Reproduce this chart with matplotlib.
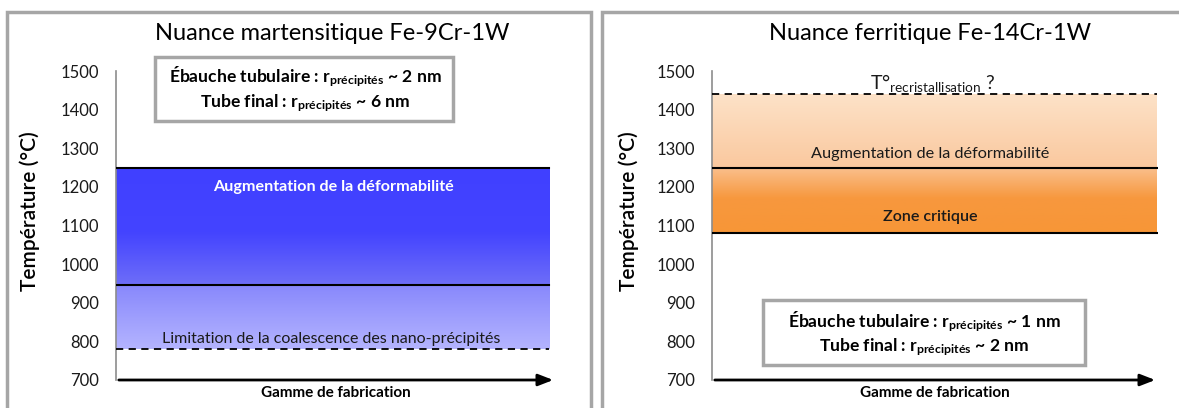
import numpy as np
import matplotlib
matplotlib.use("Agg")
import matplotlib.pyplot as plt
from matplotlib.patches import Rectangle

plt.rcParams['font.family'] = ['Lato', 'DejaVu Sans']
plt.rcParams['mathtext.default'] = 'regular'

# ========= données =========
Y_TICKS = [700, 800, 900, 1000, 1100, 1200, 1300, 1400, 1500]
TITRES = ["Nuance martensitique Fe-9Cr-1W", "Nuance ferritique Fe-14Cr-1W"]

# martensitique : limites (°C)
M_HAUT = 1250
M_MILIEU = 945
M_BAS = 780
# ferritique : limites (°C)
F_RECRIST = 1440
F_MILIEU = 1250
F_BAS = 1080

BOITE_M = ["Ébauche tubulaire : r$_{précipités}$ ~ 2 nm", "Tube final : r$_{précipités}$ ~ 6 nm"]
BOITE_F = ["Ébauche tubulaire : r$_{précipités}$ ~ 1 nm", "Tube final : r$_{précipités}$ ~ 2 nm"]

W, H = 1179, 408
fig = plt.figure(figsize=(W / 100, H / 100), dpi=100)
fig.patch.set_facecolor("white")


def fx(x):
    return x / W


def fy(y):
    return 1 - y / H


def degrade(ax, lo, hi, stops, xend=1.0):
    # stops : liste (T, (r,g,b)) du haut vers le bas
    ts = np.linspace(hi, lo, 200)
    st = sorted(stops, key=lambda s: s[0])
    tt = [s[0] for s in st]
    img = np.zeros((200, 1, 3))
    for c in range(3):
        img[:, 0, c] = np.interp(ts, tt, [s[1][c] / 255 for s in st])
    ax.imshow(img, extent=[0, xend, lo, hi], aspect="auto", interpolation="bilinear", zorder=1)


def setup_axes(rect, lab_x):
    ax = fig.add_axes(rect)
    ax.set_xlim(0, 1)
    ax.set_ylim(700, 1500)
    ax.set_yticks(Y_TICKS)
    ax.set_xticks([])
    ax.tick_params(axis="y", length=0, pad=12, labelsize=12, labelcolor="#1a1a1a")
    for s in ["top", "right", "bottom"]:
        ax.spines[s].set_visible(False)
    ax.spines["left"].set_color("#8c8c8c")
    ax.spines["left"].set_linewidth(1.2)
    ax.annotate("", xy=(1.0, 700), xytext=(0, 700),
                arrowprops=dict(arrowstyle="-|>,head_length=0.9,head_width=0.35", color="black", lw=2),
                annotation_clip=False, zorder=5)
    ax.set_ylabel("Température (°C)", fontsize=15, fontweight="semibold")
    ax.yaxis.set_label_coords(lab_x, 0.547)
    ax.set_xlabel("Gamme de fabrication", fontsize=11, fontweight="bold", labelpad=4)
    return ax


# cadres des deux panneaux
fig.patches.append(Rectangle((fx(7), fy(460)), fx(584), fy(12) - fy(460), transform=fig.transFigure,
                             fill=False, edgecolor="#a6a6a6", lw=2.5))
fig.patches.append(Rectangle((fx(602), fy(460)), fx(640), fy(12) - fy(460), transform=fig.transFigure,
                             fill=False, edgecolor="#a6a6a6", lw=2.5))

# ========= panneau gauche =========
ax1 = setup_axes([fx(116), fy(380), fx(556 - 116), fy(71) - fy(380)], -0.173)
xe = 0.985
degrade(ax1, M_MILIEU, M_HAUT, [(M_HAUT, (64, 64, 255)), (1080, (68, 68, 255)), (M_MILIEU, (110, 110, 248))], xe)
degrade(ax1, M_BAS, M_MILIEU, [(M_MILIEU, (136, 136, 252)), (M_BAS, (180, 180, 255))], xe)
ax1.plot([0, xe], [M_HAUT, M_HAUT], color="black", lw=1.5, zorder=3)
ax1.plot([0, xe], [M_MILIEU, M_MILIEU], color="black", lw=1.5, zorder=3)
ax1.plot([0, xe], [M_BAS, M_BAS], color="black", lw=1.3, ls=(0, (4, 3)), zorder=3)
ax1.text(0.495, 1200, "Augmentation de la déformabilité", color="white", fontsize=11.6,
         fontweight="bold", ha="center", va="center", zorder=4)
ax1.text(0.49, 806, "Limitation de la coalescence des nano-précipités", color="#1a1a1a", fontsize=11.5,
         ha="center", va="center", zorder=4)
fig.text(fx(332), fy(33), TITRES[0], fontsize=17, ha="center", va="center")
fig.patches.append(Rectangle((fx(155), fy(121)), fx(453 - 155), fy(57) - fy(121), transform=fig.transFigure,
                             fill=True, facecolor="white", edgecolor="#a6a6a6", lw=2.5, zorder=6))
fig.text(fx(305), fy(77), BOITE_M[0], fontsize=12.6, fontweight="bold", ha="center", va="center", zorder=7)
fig.text(fx(305), fy(103), BOITE_M[1], fontsize=12.6, fontweight="bold", ha="center", va="center", zorder=7)

# ========= panneau droit =========
ax2 = setup_axes([fx(712), fy(380), fx(1158 - 712), fy(71) - fy(380)], -0.164)
xe = 0.997
degrade(ax2, F_MILIEU, F_RECRIST, [(F_RECRIST, (253, 226, 200)), (F_MILIEU, (250, 200, 158))], xe)
degrade(ax2, F_BAS, F_MILIEU, [(F_MILIEU, (250, 192, 142)), (1170, (247, 152, 62)), (F_BAS, (247, 150, 55))], xe)
ax2.plot([0, xe], [F_RECRIST, F_RECRIST], color="black", lw=1.3, ls=(0, (4, 3)), zorder=3)
ax2.plot([0, xe], [F_MILIEU, F_MILIEU], color="black", lw=1.5, zorder=3)
ax2.plot([0, xe], [F_BAS, F_BAS], color="black", lw=1.5, zorder=3)
ax2.text(0.494, 1470, "T°$_{recristallisation}$ ?", color="#1a1a1a", fontsize=14,
         ha="center", va="center", zorder=4)
ax2.text(0.49, 1284, "Augmentation de la déformabilité", color="#1a1a1a", fontsize=11.7,
         ha="center", va="center", zorder=4)
ax2.text(0.49, 1122, "Zone critique", color="#1a1a1a", fontsize=11.5, fontweight="semibold",
         ha="center", va="center", zorder=4)
fig.text(fx(930), fy(33), TITRES[1], fontsize=17, ha="center", va="center")
fig.patches.append(Rectangle((fx(763), fy(365)), fx(1085 - 763), fy(300) - fy(365), transform=fig.transFigure,
                             fill=True, facecolor="white", edgecolor="#a6a6a6", lw=2.5, zorder=6))
fig.text(fx(924), fy(322), BOITE_F[0], fontsize=12.6, fontweight="bold", ha="center", va="center", zorder=7)
fig.text(fx(924), fy(347), BOITE_F[1], fontsize=12.6, fontweight="bold", ha="center", va="center", zorder=7)

plt.savefig("out.png", dpi=100)
